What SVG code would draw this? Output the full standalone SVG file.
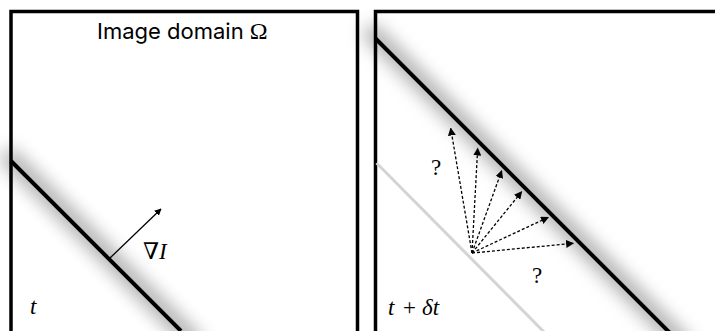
<svg xmlns="http://www.w3.org/2000/svg" width="715" height="331" viewBox="0 0 715 331">
<defs>
<style>
.frame{fill:none;stroke:#000;stroke-width:3.5}
.edge{stroke:#000;stroke-width:4;stroke-linecap:butt}
.shadow{stroke:#000;stroke-width:16;stroke-opacity:0.36;filter:url(#blur)}
.old{stroke:#d4d4d4;stroke-width:3}
.grad{stroke:#000;stroke-width:1.3;fill:none}
.cand{stroke:#000;stroke-width:1.3;stroke-dasharray:3 2;fill:none}
.serif{font-family:"Liberation Serif","DejaVu Serif",serif;font-size:23px;fill:#000}
.sans{font-family:Inter,"Liberation Sans",sans-serif;font-size:22px;fill:#000}
</style>
<filter id="blur" x="-50%" y="-50%" width="200%" height="200%"><feGaussianBlur stdDeviation="9"/></filter>
<marker id="ah" viewBox="0 0 10 10" refX="9" refY="5" markerWidth="7" markerHeight="7" markerUnits="userSpaceOnUse" orient="auto"><path d="M0,0 L10,5 L0,10 z" fill="#000"/></marker>
<marker id="ahd" viewBox="0 0 10 10" refX="9" refY="5" markerWidth="8" markerHeight="8" markerUnits="userSpaceOnUse" orient="auto"><path d="M0,0 L10,5 L0,10 z" fill="#000"/></marker>
</defs>
<rect width="715" height="331" fill="#fff"/>
<g id="panel-t">
<line class="shadow" x1="5" y1="153" x2="198" y2="346"/>
<path class="frame" d="M11,335 V11.5 H357.5 V335"/>
<line class="edge" x1="11" y1="161" x2="181" y2="331"/>
<text class="sans" x="97" y="39">Image domain <tspan font-family="Liberation Serif,serif" font-size="24">Ω</tspan></text>
<text class="serif" x="30" y="314" font-style="italic">t</text>
</g>
<g id="panel-tdt">
<line class="shadow" x1="368" y1="29" x2="688" y2="349"/>
<path class="frame" d="M375.5,335 V11.5 H720"/>
<line class="old" x1="376.5" y1="163" x2="545" y2="333"/>
<line class="edge" x1="375.5" y1="38.5" x2="670" y2="333"/>
<text class="serif" y="315" font-size="24"><tspan x="388" font-style="italic">t</tspan><tspan x="403">+</tspan><tspan x="422" font-style="italic">δt</tspan></text>
<text class="serif" x="431" y="175" font-size="26">?</text>
<text class="serif" x="532" y="283" font-size="26">?</text>
</g>
<g id="connectors">
<line class="grad" x1="110" y1="258" x2="161" y2="209" marker-end="url(#ah)"/>
<line class="cand" x1="472" y1="253" x2="450.7" y2="128.3" marker-end="url(#ahd)"/>
<line class="cand" x1="472" y1="253" x2="477.7" y2="148.3" marker-end="url(#ahd)"/>
<line class="cand" x1="472" y1="253" x2="501.7" y2="170.7" marker-end="url(#ahd)"/>
<line class="cand" x1="472" y1="253" x2="521.7" y2="191.7" marker-end="url(#ahd)"/>
<line class="cand" x1="472" y1="253" x2="548.3" y2="217.3" marker-end="url(#ahd)"/>
<line class="cand" x1="472" y1="253" x2="573.3" y2="243.3" marker-end="url(#ahd)"/>
</g>
<text class="serif" x="143" y="259">∇<tspan font-style="italic">I</tspan></text>
</svg>
